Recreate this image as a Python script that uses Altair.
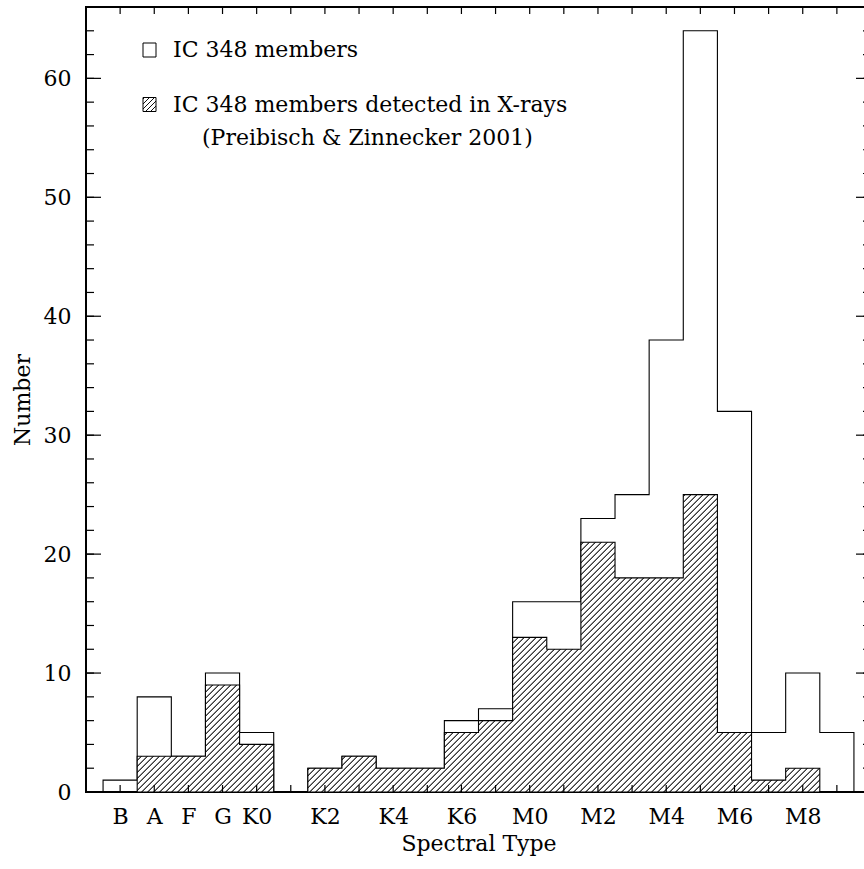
import altair as alt
import pandas as pd

# ---------------- data ----------------
types = ["B", "A", "F", "G", "K0", "K1", "K2", "K3", "K4", "K5", "K6", "K7",
         "M0", "M1", "M2", "M3", "M4", "M5", "M6", "M7", "M8", "M9"]
members = [1, 8, 3, 10, 5, 0, 2, 3, 2, 2, 6, 7, 16, 16, 23, 25, 38, 64, 32, 5, 10, 5]
xray = [0, 3, 3, 9, 4, 0, 2, 3, 2, 2, 5, 6, 13, 12, 21, 18, 18, 25, 5, 1, 2, 0]
label_types = ["B", "A", "F", "G", "K0", "K2", "K4", "K6", "M0", "M2", "M4", "M6", "M8"]
y_major = [0, 10, 20, 30, 40, 50, 60]
y_minor = [0, 2, 4, 6, 8, 10, 12, 14, 16, 18, 20, 22, 24, 26, 28, 30, 32, 34,
           36, 38, 40, 42, 44, 46, 48, 50, 52, 54, 56, 58, 60, 62, 64, 66]
legend_labels = ["IC 348 members",
                 "IC 348 members detected in X-rays",
                 "(Preibisch & Zinnecker 2001)"]

# ---------------- layout ----------------
W, H = 785, 785
XDOM = [-1, 22]
YDOM = [0, 66]
px_x = W / (XDOM[1] - XDOM[0])
px_y = H / (YDOM[1] - YDOM[0])
FONT = "DejaVu Serif"
FS = 22

n = len(types)
out_df = pd.DataFrame({
    "edge": [i - 0.5 for i in range(n)] + [n - 0.5],
    "count": members + [members[-1]],
})
nz = [i for i, v in enumerate(xray) if v > 0]
i0, i1 = nz[0], nz[-1]
hat_df = pd.DataFrame({
    "edge": [i - 0.5 for i in range(i0, i1 + 1)] + [i1 + 0.5],
    "count": xray[i0:i1 + 1] + [xray[i1]],
})


def hatch(bw, bh, period=6.0, lw=1.4):
    """Diagonal '///' hatching as a hard-stop linear gradient over a bbox."""
    L = bw + bh
    s = L / (bw * bw + bh * bh)
    stops = [alt.GradientStop(offset=0, color="#ffffff")]
    c = 1.0
    while c < L:
        pts = [(c, "#ffffff"), (c + 0.3, "#111111"),
               (c + lw - 0.3, "#111111"), (c + lw, "#ffffff")]
        for p, col in pts:
            stops.append(alt.GradientStop(offset=round(min(p / L, 1.0), 6), color=col))
        c += period
    return alt.LinearGradient(gradient="linear", stops=stops,
                              x1=0, y1=0, x2=bw * s, y2=bh * s)


xs = alt.Scale(domain=XDOM, nice=False, zero=False)
ys = alt.Scale(domain=YDOM, nice=False, zero=False)

label_pos = [types.index(t) for t in label_types]
type_arr = "[" + ",".join("'%s'" % t for t in types) + "]"

xa = alt.Axis(values=label_pos, labelExpr=type_arr + "[datum.value]",
              title="Spectral Type", ticks=False, domain=False, grid=False,
              labelPadding=14, titleY=51, titleBaseline="middle", labelFlush=False)
ya = alt.Axis(values=y_major, title="Number", ticks=False, domain=False, grid=False,
              labelPadding=15, titleX=-64, titleY=H / 2, titleAngle=270,
              titleAlign="center", titleBaseline="middle")

outline = alt.Chart(out_df).mark_area(
    interpolate="step-after", fillOpacity=0, stroke="black", strokeWidth=1.1
).encode(
    x=alt.X("edge:Q", scale=xs, axis=xa),
    y=alt.Y("count:Q", scale=ys, axis=ya),
)

hat_w = (i1 - i0 + 1) * px_x
hat_h = max(xray) * px_y
hatched = alt.Chart(hat_df).mark_area(
    interpolate="step-after", fill=hatch(hat_w, hat_h), stroke="black", strokeWidth=1.1
).encode(
    x=alt.X("edge:Q", scale=xs, axis=xa),
    y=alt.Y("count:Q", scale=ys, axis=ya),
)

xt_df = pd.DataFrame({"t": list(range(n))})
ymaj_df = pd.DataFrame({"v": y_major})
ymin_df = pd.DataFrame({"v": y_minor})

tick_style = dict(color="black", strokeWidth=1.2)
xt_bottom = alt.Chart(xt_df).mark_rule(**tick_style).encode(
    x=alt.X("t:Q", scale=xs, axis=xa), y=alt.value(H), y2=alt.value(H - 7))
xt_top = alt.Chart(xt_df).mark_rule(**tick_style).encode(
    x=alt.X("t:Q", scale=xs, axis=xa), y=alt.value(0), y2=alt.value(7))
ymaj_left = alt.Chart(ymaj_df).mark_rule(**tick_style).encode(
    y=alt.Y("v:Q", scale=ys, axis=ya), x=alt.value(0), x2=alt.value(15))
ymin_left = alt.Chart(ymin_df).mark_rule(**tick_style).encode(
    y=alt.Y("v:Q", scale=ys, axis=ya), x=alt.value(0), x2=alt.value(8))
ymaj_right = alt.Chart(ymaj_df).mark_rule(**tick_style).encode(
    y=alt.Y("v:Q", scale=ys, axis=ya), x=alt.value(W), x2=alt.value(W - 15))
ymin_right = alt.Chart(ymin_df).mark_rule(**tick_style).encode(
    y=alt.Y("v:Q", scale=ys, axis=ya), x=alt.value(W), x2=alt.value(W - 8))

one = pd.DataFrame({"k": [0]})
box1 = alt.Chart(one).mark_rect(fill="white", stroke="black", strokeWidth=1).encode(
    x=alt.value(57), x2=alt.value(70), y=alt.value(36), y2=alt.value(50))
box2 = alt.Chart(one).mark_rect(fill=hatch(13, 14, period=5.0, lw=1.4),
                                stroke="black", strokeWidth=1).encode(
    x=alt.value(57), x2=alt.value(70), y=alt.value(90.5), y2=alt.value(104.5))
txt_style = dict(font=FONT, fontSize=FS, align="left", baseline="middle", color="black")
t1 = alt.Chart(one).mark_text(text=legend_labels[0], **txt_style).encode(
    x=alt.value(87), y=alt.value(43))
t2 = alt.Chart(one).mark_text(text=legend_labels[1], **txt_style).encode(
    x=alt.value(87), y=alt.value(97.5))
t3 = alt.Chart(one).mark_text(text=legend_labels[2], **txt_style).encode(
    x=alt.value(116), y=alt.value(131))

chart = alt.layer(
    outline, hatched, xt_bottom, xt_top, ymaj_left, ymin_left, ymaj_right, ymin_right,
    box1, box2, t1, t2, t3,
).properties(
    width=W, height=H,
    autosize=alt.AutoSizeParams(type="none"),
    padding={"left": 86, "top": 7, "right": -7, "bottom": 77},
    background="white",
).configure_view(
    stroke="black", strokeWidth=2
).configure_axis(
    labelFont=FONT, labelFontSize=FS, labelColor="black",
    titleFont=FONT, titleFontSize=FS, titleColor="black", titleFontWeight="normal",
)

chart.save("out.html", embed_options={"renderer": "svg", "actions": False})
